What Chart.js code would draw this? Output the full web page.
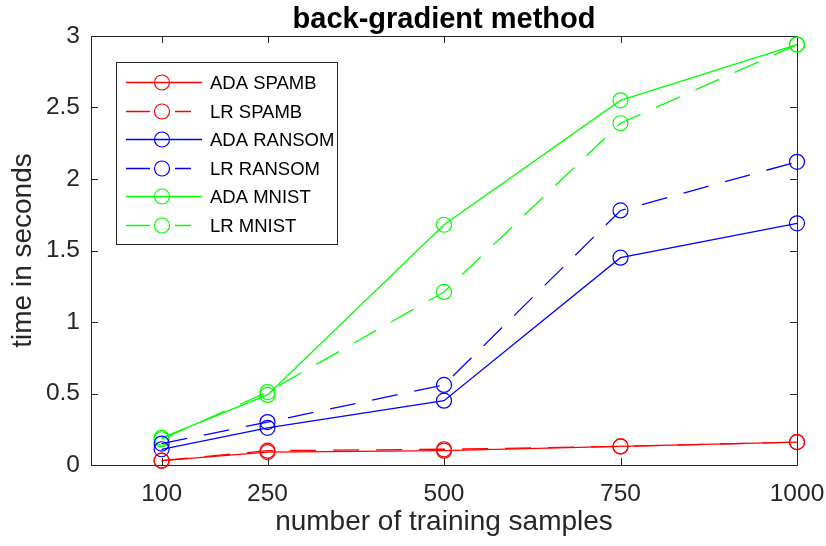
<!DOCTYPE html>
<html>
<head>
<meta charset="utf-8">
<script src="https://cdn.jsdelivr.net/npm/chart.js@4.4.0/dist/chart.umd.min.js"></script>
<style>
html, body { margin: 0; padding: 0; background: #fff; }
</style>
</head>
<body>
<canvas id="myChart" width="826" height="546"></canvas>
<script>
// values
const samples = [100, 250, 500, 750, 1000];
const xTicks = [100, 250, 500, 750, 1000];
const yTicks = [0, 0.5, 1, 1.5, 2, 2.5, 3];

const adaSpamb = [0.03, 0.09, 0.10, 0.13, 0.16];
const lrSpamb = [0.03, 0.10, 0.11, 0.13, 0.16];
const adaRansom = [0.11, 0.26, 0.45, 1.45, 1.69];
const lrRansom = [0.15, 0.30, 0.56, 1.78, 2.12];
const adaMnist = [0.19, 0.49, 1.68, 2.55, 2.94];
const lrMnist = [0.18, 0.51, 1.21, 2.39, 2.94];

const titleText = 'back-gradient method';
const axisColor = '#262626';
const fontFamily = '"Liberation Sans", Arial, sans-serif';
const dash = [26, 17];

function series(label, values, color, dashed) {
    return {
        label: label,
        data: values.map((v, i) => ({ x: samples[i], y: v })),
        borderColor: color,
        backgroundColor: 'rgba(0,0,0,0)',
        borderWidth: 1.3,
        borderDash: dashed ? dash : [],
        pointStyle: 'circle',
        pointRadius: 7.5,
        pointBorderWidth: 1.2,
        pointBorderColor: color,
        pointBackgroundColor: 'rgba(0,0,0,0)',
        tension: 0,
        clip: false
    };
}

// box + inward ticks, like a matlab axes, and the title over the axes
const axesBox = {
    id: 'axesBox',
    beforeDatasetsDraw(chart) {
        const ctx = chart.ctx;
        const ca = chart.chartArea;
        const xs = chart.scales.x, ys = chart.scales.y;
        const len = 7;
        ctx.save();
        ctx.strokeStyle = axisColor;
        ctx.lineWidth = 1;
        ctx.strokeRect(Math.round(ca.left) + 0.5, Math.round(ca.top) + 0.5,
            Math.round(ca.right - ca.left), Math.round(ca.bottom - ca.top));
        ctx.beginPath();
        xTicks.forEach(v => {
            const px = Math.round(xs.getPixelForValue(v)) + 0.5;
            ctx.moveTo(px, ca.bottom); ctx.lineTo(px, ca.bottom - len);
            ctx.moveTo(px, ca.top); ctx.lineTo(px, ca.top + len);
        });
        yTicks.forEach(v => {
            const py = Math.round(ys.getPixelForValue(v)) + 0.5;
            ctx.moveTo(ca.left, py); ctx.lineTo(ca.left + len, py);
            ctx.moveTo(ca.right, py); ctx.lineTo(ca.right - len, py);
        });
        ctx.stroke();

        ctx.fillStyle = '#000';
        ctx.font = 'bold 29px ' + fontFamily;
        ctx.textAlign = 'center';
        ctx.textBaseline = 'alphabetic';
        ctx.fillText(titleText, (ca.left + ca.right) / 2, ca.top - 8);
        ctx.restore();
    }
};

// legend box in the upper left of the axes
const boxLegend = {
    id: 'boxLegend',
    afterDraw(chart) {
        const ctx = chart.ctx;
        const ca = chart.chartArea;
        const left = ca.left + 25, top = ca.top + 26;
        const w = 221, h = 182, row = 28.5;
        ctx.save();
        ctx.fillStyle = '#fff';
        ctx.fillRect(left, top, w, h);
        ctx.strokeStyle = axisColor;
        ctx.lineWidth = 1;
        ctx.strokeRect(Math.round(left) + 0.5, Math.round(top) + 0.5, w, h);
        ctx.font = '18.5px ' + fontFamily;
        ctx.textBaseline = 'middle';
        chart.data.datasets.forEach((ds, i) => {
            const y = Math.round(top + 20 + i * row) + 0.5;
            ctx.strokeStyle = ds.borderColor;
            ctx.lineWidth = 1.3;
            ctx.beginPath();
            if (ds.borderDash.length) {
                ctx.setLineDash([24, 25]);
                ctx.moveTo(left + 10, y); ctx.lineTo(left + 75, y);
            } else {
                ctx.setLineDash([]);
                ctx.moveTo(left + 10, y); ctx.lineTo(left + 86, y);
            }
            ctx.stroke();
            ctx.setLineDash([]);
            ctx.lineWidth = 1.2;
            ctx.beginPath();
            ctx.arc(left + 46, y, 7.5, 0, Math.PI * 2);
            ctx.stroke();
            ctx.fillStyle = '#000';
            ctx.fillText(ds.label, left + 94, y + 1);
        });
        ctx.restore();
    }
};

Chart.defaults.font.family = fontFamily;

const ctx = document.getElementById('myChart').getContext('2d');
const myChart = new Chart(ctx, {
    type: 'line',
    data: {
        datasets: [
            series('ADA SPAMB', adaSpamb, '#ff0000', false),
            series('LR SPAMB', lrSpamb, '#ff0000', true),
            series('ADA RANSOM', adaRansom, '#0000ff', false),
            series('LR RANSOM', lrRansom, '#0000ff', true),
            series('ADA MNIST', adaMnist, '#00ff00', false),
            series('LR MNIST', lrMnist, '#00ff00', true)
        ]
    },
    options: {
        responsive: false,
        animation: false,
        layout: { padding: { left: 0, right: 29, top: 36, bottom: 0 } },
        plugins: {
            legend: { display: false },
            tooltip: { enabled: false },
            title: { display: false }
        },
        scales: {
            x: {
                type: 'linear',
                min: 0,
                max: 1000,
                afterBuildTicks: (s) => { s.ticks = xTicks.map(v => ({ value: v })); },
                afterFit: (s) => { s.height = 81; s.paddingLeft = 0; s.paddingRight = 0; },
                grid: { display: false, drawTicks: false },
                border: { display: false },
                ticks: {
                    color: axisColor, font: { size: 24.5 }, padding: 15,
                    autoSkip: false, maxRotation: 0,
                    callback: (v) => String(v)
                },
                title: {
                    display: true,
                    text: 'number of training samples',
                    color: axisColor,
                    font: { size: 28 },
                    padding: { top: 0, bottom: 7 }
                }
            },
            y: {
                min: 0,
                max: 3,
                afterBuildTicks: (s) => { s.ticks = yTicks.map(v => ({ value: v })); },
                afterFit: (s) => { s.width = 91; s.paddingTop = 0; s.paddingBottom = 0; },
                grid: { display: false, drawTicks: false },
                border: { display: false },
                ticks: {
                    color: axisColor, font: { size: 24.5 }, padding: 11,
                    callback: (v) => String(v)
                },
                title: {
                    display: true,
                    text: 'time in seconds',
                    color: axisColor,
                    font: { size: 28 },
                    padding: { top: 6, bottom: 0 }
                }
            }
        }
    },
    plugins: [axesBox, boxLegend]
});
</script>
</body>
</html>
